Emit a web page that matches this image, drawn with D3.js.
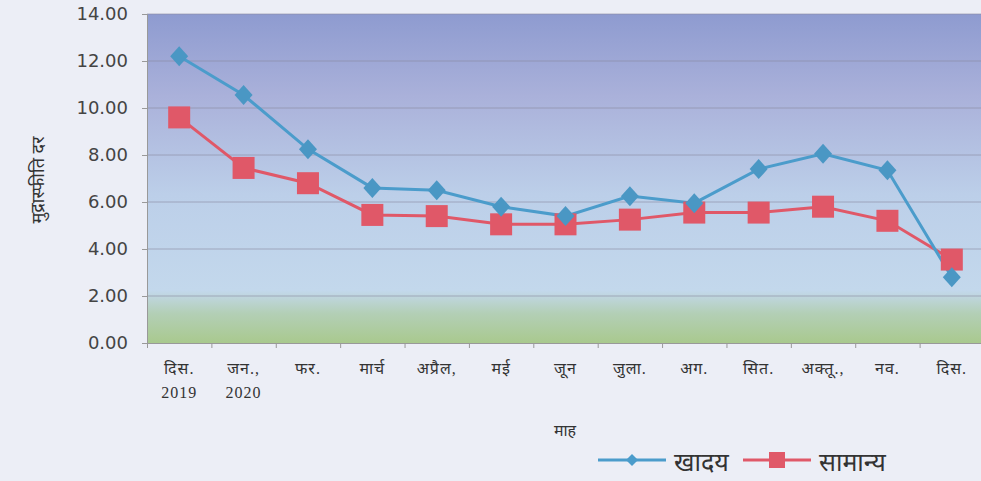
<!DOCTYPE html>
<html lang="hi">
<head>
<meta charset="UTF-8">
<title>मुद्रास्फीति दर</title>
<script src="https://d3js.org/d3.v7.min.js"></script>
<style>
    body { margin: 0; background: #eceef6; }
    svg { display: block; }
    .ytick text { font-family: "DejaVu Sans", Verdana, sans-serif; font-size: 18px; fill: #444; }
    .xlab { font-family: "Liberation Serif", "Noto Sans", serif; font-size: 16px; fill: #333; letter-spacing: 1px; }
    .title { font-family: "Noto Sans", sans-serif; fill: #333; }
</style>
</head>
<body>
<svg id="chart" width="981" height="481"></svg>
<script>
    // Data
    const months = ['दिस.', 'जन.,', 'फर.', 'मार्च', 'अप्रैल,', 'मई', 'जून', 'जुला.', 'अग.', 'सित.', 'अक्तू.,', 'नव.', 'दिस.'];
    const years = ['2019', '2020', '', '', '', '', '', '', '', '', '', '', ''];
    const food = [12.2, 10.55, 8.25, 6.6, 6.5, 5.8, 5.4, 6.25, 5.95, 7.4, 8.05, 7.35, 2.8];
    const general = [9.6, 7.45, 6.8, 5.45, 5.4, 5.05, 5.05, 5.25, 5.55, 5.55, 5.8, 5.2, 3.55];
    const yTicks = [0, 2, 4, 6, 8, 10, 12, 14];

    const svg = d3.select('#chart');
    const margin = { top: 14, right: 0, bottom: 138, left: 147 };
    const width = 837, height = 329;
    const g = svg.append('g').attr('transform', `translate(${margin.left},${margin.top})`);

    const x = d3.scaleBand().domain(d3.range(months.length)).range([0, width]);
    const y = d3.scaleLinear().domain([0, 14]).range([height, 0]);

    // plot background gradient
    const defs = svg.append('defs');
    const grad = defs.append('linearGradient').attr('id', 'bg').attr('x1', 0).attr('y1', 0).attr('x2', 0).attr('y2', 1);
    grad.append('stop').attr('offset', '0%').attr('stop-color', '#8e9bd0');
    grad.append('stop').attr('offset', '25%').attr('stop-color', '#aab1da');
    grad.append('stop').attr('offset', '55%').attr('stop-color', '#bccfe9');
    grad.append('stop').attr('offset', '84%').attr('stop-color', '#c3d8ec');
    grad.append('stop').attr('offset', '91%').attr('stop-color', '#b3cfb6');
    grad.append('stop').attr('offset', '100%').attr('stop-color', '#a9c98e');
    g.append('rect').attr('width', width).attr('height', height).attr('fill', 'url(#bg)');

    // gridlines
    g.selectAll('.grid').data(yTicks.filter(d => d > 0)).enter().append('line')
        .attr('x1', 0).attr('x2', width)
        .attr('y1', d => y(d)).attr('y2', d => y(d))
        .attr('stroke', '#8a8aa0').attr('stroke-width', 1).attr('opacity', 0.6);

    // y axis
    const yAxis = g.append('g').attr('class', 'ytick')
        .call(d3.axisLeft(y).tickValues(yTicks).tickFormat(d3.format('.2f')).tickSize(5).tickPadding(14));
    yAxis.select('.domain').attr('stroke', '#999');
    yAxis.selectAll('line').attr('stroke', '#999');

    // x axis
    const xAxis = g.append('g').attr('transform', `translate(0,${height})`)
        .call(d3.axisBottom(d3.scaleLinear().domain([0, months.length]).range([0, width]))
            .tickValues(d3.range(months.length + 1)).tickSize(5).tickFormat(''));
    xAxis.select('.domain').attr('stroke', '#999');
    xAxis.selectAll('line').attr('stroke', '#999');

    const cx = i => x(i) + x.bandwidth() / 2;
    g.selectAll('.mlab').data(months).enter().append('text')
        .attr('class', 'xlab').attr('text-anchor', 'middle')
        .attr('x', (d, i) => cx(i)).attr('y', height + 31).text(d => d);
    g.selectAll('.ylab').data(years).enter().append('text')
        .attr('class', 'xlab').attr('text-anchor', 'middle')
        .attr('x', (d, i) => cx(i)).attr('y', height + 55).text(d => d);

    // lines
    const line = d3.line().x((d, i) => cx(i)).y(d => y(d));
    const foodColor = '#4b9ccb', generalColor = '#e05868';

    g.append('path').datum(general).attr('fill', 'none').attr('stroke', generalColor)
        .attr('stroke-width', 3).attr('d', line);
    g.append('path').datum(food).attr('fill', 'none').attr('stroke', foodColor)
        .attr('stroke-width', 3).attr('d', line);

    g.selectAll('.sq').data(general).enter().append('rect')
        .attr('x', (d, i) => cx(i) - 11).attr('y', d => y(d) - 11)
        .attr('width', 22).attr('height', 22).attr('fill', generalColor);
    g.selectAll('.dm').data(food).enter().append('path')
        .attr('transform', (d, i) => `translate(${cx(i)},${y(d)})`)
        .attr('d', 'M0,-10L9,0L0,10L-9,0Z').attr('fill', '#4a97c4');

    // axis titles
    svg.append('text').attr('class', 'title').attr('font-size', 18)
        .attr('transform', 'translate(44,180) rotate(-90)').attr('text-anchor', 'middle')
        .text('मुद्रास्फीति दर');
    svg.append('text').attr('class', 'title').attr('font-size', 16)
        .attr('x', 565).attr('y', 436).attr('text-anchor', 'middle').text('माह');

    // legend
    const legend = svg.append('g').attr('transform', 'translate(0,460)');
    const items = [
        { name: 'खादय', color: foodColor, shape: 'diamond', x: 598 },
        { name: 'सामान्य', color: generalColor, shape: 'square', x: 743 }
    ];
    items.forEach(it => {
        legend.append('line').attr('x1', it.x).attr('x2', it.x + 68).attr('y1', 0).attr('y2', 0)
            .attr('stroke', it.color).attr('stroke-width', 3);
        if (it.shape === 'diamond') {
            legend.append('path').attr('transform', `translate(${it.x + 34},0)`)
                .attr('d', 'M0,-6L6,0L0,6L-6,0Z').attr('fill', it.color);
        } else {
            legend.append('rect').attr('x', it.x + 26).attr('y', -8).attr('width', 16).attr('height', 16)
                .attr('fill', it.color);
        }
        legend.append('text').attr('class', 'title').attr('font-size', 25)
            .attr('x', it.x + 76).attr('y', 11).text(it.name);
    });
</script>
</body>
</html>
